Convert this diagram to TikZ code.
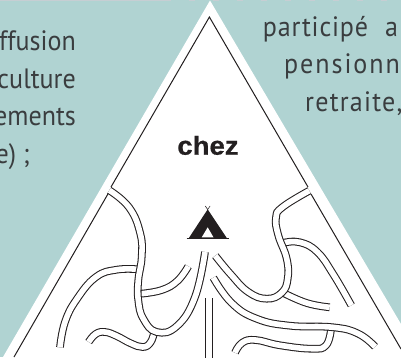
\documentclass[tikz,border=0pt]{standalone}
\usepackage{fontspec}
\setmainfont{PT Sans}
\newfontfamily\bodyfont[FakeStretch=0.93]{PT Sans}
\newfontfamily\boldfont[FakeBold=0.7,FakeStretch=1.06]{Liberation Sans Bold}
\definecolor{teal}{HTML}{B0D3D2}
\definecolor{topband}{HTML}{C6CED3}
\definecolor{ink}{HTML}{231F20}
\definecolor{txt}{HTML}{3A3D3F}
\tikzset{
 river/.style={draw=ink,line width=1.05pt,double=white,double distance=5.6pt},
 outline/.style={draw=ink,line width=1pt},
 lefttext/.style={anchor=base east,inner sep=0pt,text=txt,font=\fontsize{28}{28}\selectfont\bodyfont},
 righttext/.style={anchor=base west,inner sep=0pt,text=txt,font=\fontsize{28}{28}\selectfont\bodyfont},
}
\begin{document}
\begin{tikzpicture}[x=1pt,y=-1pt]
\useasboundingbox (0,0) rectangle (401,357);
\clip (0,0) rectangle (401,357);
\fill[teal] (0,0) rectangle (401,357);
\fill[topband] (0,0) rectangle (165,1.2);
\draw[topband,line width=1.2pt,dash pattern=on 6pt off 18pt] (165,0.6) -- (401,0.6);
\fill[white] (210,0.5) -- (3,357) -- (401,357) -- (401,324) -- cycle;
% triangle outline with gaps at the two river mouths
\draw[outline] (108.5,193) -- (14,357);
\draw[outline] (111,187) -- (209.4,17) -- (308,187);
\draw[outline] (311,194) -- (401,349);
% tributaries
\draw[river] plot[smooth,tension=.75] coordinates {(138,269.3)(116.7,269.7)(96,277)(76.7,299.3)(65,322)(60,347.3)};
\draw[river] plot[smooth,tension=.75] coordinates {(141,293.7)(161.7,290)(177.3,281)(188.3,266.3)};
\draw[river] plot[smooth,tension=.75] coordinates {(88.7,342)(95.7,334)(105,332)(116.7,336)(130.7,343.3)(142.7,347)(150.3,342.7)(154,333)};
\draw[river] plot[smooth,tension=.75] coordinates {(284,242.7)(300,242.3)(317.3,252)(333.3,274.3)(351.3,305.3)};
\draw[river] plot[smooth,tension=.75] coordinates {(283,292.7)(306.7,303)(329.7,307.3)};
\draw[river] plot[smooth,tension=.75] coordinates {(235,352.7)(242.3,342.7)(255.7,340)(280,345.3)(311.7,348.7)(326,345.3)(331,329)};
% main rivers
\draw[river] plot[smooth,tension=.75] coordinates {(109.3,190.3)(129.3,207.7)(140.3,233.7)(141.7,257)(138.3,280.3)(138.3,300.3)(143.3,318.7)(156.7,332)(177,326)(195,297)(205,252)};
\draw[river] plot[smooth,tension=.75] coordinates {(309.3,190.7)(282.7,207)(276,217.7)(278.3,235.3)(286.7,258.7)(287.7,278.7)(281.7,292.7)(266.7,298.7)(248.3,292)(230.7,274.3)(215.3,255.7)};
\draw[river] plot[smooth,tension=.75] coordinates {(213.3,277.7)(231.7,303)(256.7,318.7)(290,325.7)(333.3,327.3)(358.3,333.7)(375,346.7)};
\draw[river] (209.2,298.3) -- (209.2,358);
% tent
\fill[ink] (207.7,209.3) -- (189,237.8) -- (226.7,237.8) -- cycle;
\fill[white] (201.7,237.4) -- (207.7,227.3) -- (213.5,237.4) -- cycle;
\draw[ink,line width=0.8pt] (186.7,238.6) -- (229,238.6);
\draw[ink,line width=0.5pt] (205.3,206) -- (207.7,209.6) -- (210.1,206);
% texts
\node[anchor=base,inner sep=0pt,text=ink,font=\fontsize{26}{26}\selectfont\boldfont] (chez) at (208,154.7) {chez};
\node[lefttext] (l1) at (76,50.7) {ffusion};
\node[lefttext] (l2) at (76,88) {culture};
\node[lefttext] (l3) at (76,125.7) {ements};
\node[lefttext] (l4) at (30,163) {e) ;};
\node[righttext] (r1) at (262.7,36.7) {\addfontfeatures{LetterSpace=3}participé};
\node[righttext] (r1b) at (385,36.7) {a};
\node[righttext] (r2) at (284,73.5) {\addfontfeatures{LetterSpace=7}pensionn};
\node[righttext] (r3) at (305,111.5) {\addfontfeatures{LetterSpace=4.5}retraite,};
\end{tikzpicture}
\end{document}
